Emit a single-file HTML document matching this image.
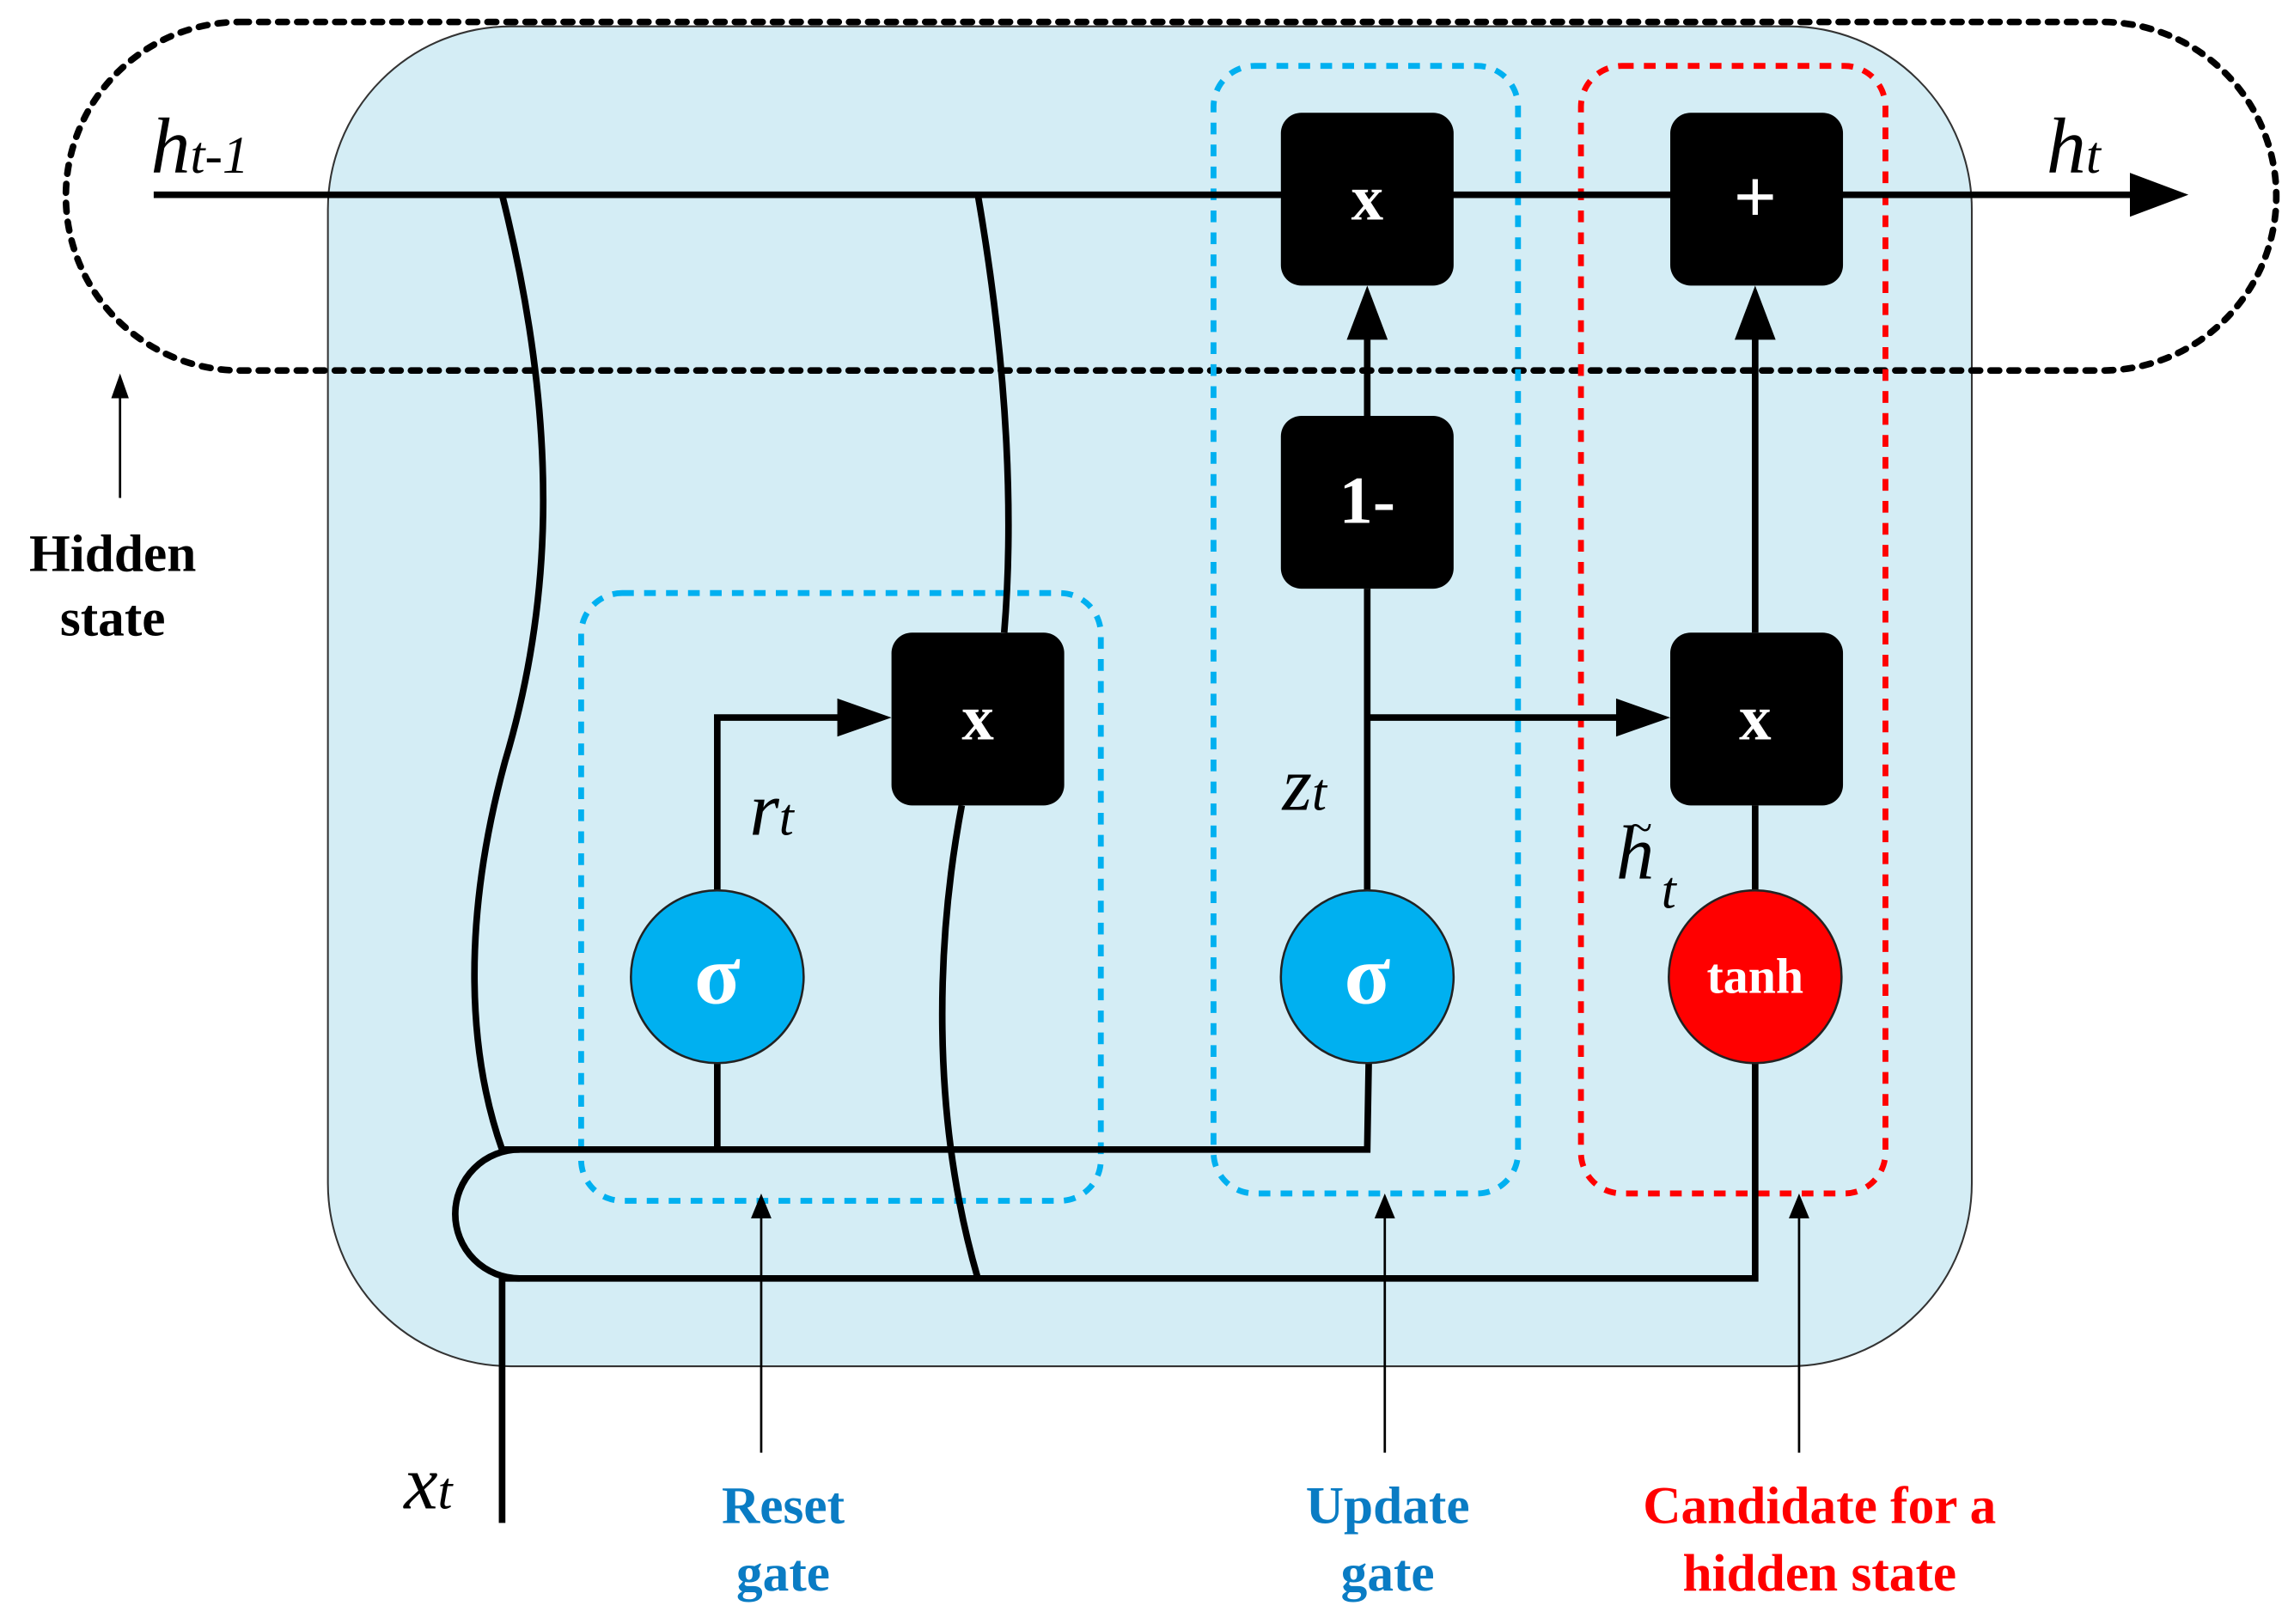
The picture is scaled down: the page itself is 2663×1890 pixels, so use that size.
<!DOCTYPE html>
<html><head><meta charset="utf-8"><style>html,body{margin:0;padding:0;background:#fff}svg{display:block}</style></head>
<body>
<svg width="2663" height="1890" viewBox="0 0 1563 1109" preserveAspectRatio="none" xmlns="http://www.w3.org/2000/svg">
<rect x="224" y="18" width="1123" height="915" rx="125" fill="#d4edf5" stroke="#333" stroke-width="1.2"/>
<rect x="45" y="15" width="1510" height="238" rx="119" fill="none" stroke="#000" stroke-width="4.5" stroke-dasharray="6,7" stroke-linecap="round"/>
<rect x="397" y="405" width="355" height="415" rx="28" fill="none" stroke="#00b0f0" stroke-width="4" stroke-dasharray="8,7"/>
<rect x="829" y="45" width="208" height="770" rx="28" fill="none" stroke="#00b0f0" stroke-width="4" stroke-dasharray="8,7"/>
<rect x="1080" y="45" width="208" height="770" rx="28" fill="none" stroke="#ff0000" stroke-width="4" stroke-dasharray="8,7"/>
<g fill="none" stroke="#000" stroke-width="4.5">
<line x1="105" y1="133" x2="1460" y2="133"/>
<path d="M343,133 C385,300 375,420 345,520 C315,630 320,720 343,785"/>
<path d="M668,133 C690,260 692,360 686,432"/>
<path d="M657,550 C640,640 635,760 668,873"/>
<path d="M343,785 L934,785 L935,726"/>
<line x1="490" y1="785" x2="490" y2="726"/>
<path d="M355,785 A44,44 0 0 0 355,873"/>
<path d="M343,873 L1199,873 L1199,726"/>
<line x1="343" y1="873" x2="343" y2="1040"/>
<path d="M490,608 L490,490 L578,490"/>
<line x1="934" y1="608" x2="934" y2="402"/>
<line x1="934" y1="490" x2="1110" y2="490"/>
<line x1="934" y1="284" x2="934" y2="225"/>
<line x1="1199" y1="608" x2="1199" y2="550"/>
<line x1="1199" y1="432" x2="1199" y2="225"/>
</g>
<g fill="#000">
<path d="M1455,118 L1495,133 L1455,148z"/>
<path d="M572,477 L609,490 L572,503z"/>
<path d="M1104,477 L1141,490 L1104,503z"/>
<path d="M920,232 L934,195 L948,232z"/>
<path d="M1185,232 L1199,195 L1213,232z"/>
</g>
<g stroke="#000" stroke-width="1.6">
<line x1="82" y1="340" x2="82" y2="268"/>
<line x1="520" y1="992" x2="520" y2="828"/>
<line x1="946" y1="992" x2="946" y2="828"/>
<line x1="1229" y1="992" x2="1229" y2="828"/>
</g>
<g fill="#000">
<path d="M76,272 L82,255 L88,272z"/>
<path d="M513,832 L520,815 L527,832z"/>
<path d="M939,832 L946,815 L953,832z"/>
<path d="M1222,832 L1229,815 L1236,832z"/>
</g>
<g fill="#000">
<rect x="875" y="77" width="118" height="118" rx="14"/>
<rect x="1141" y="77" width="118" height="118" rx="14"/>
<rect x="875" y="284" width="118" height="118" rx="14"/>
<rect x="609" y="432" width="118" height="118" rx="14"/>
<rect x="1141" y="432" width="118" height="118" rx="14"/>
</g>
<circle cx="490" cy="667" r="59" fill="#00b0f0" stroke="#222" stroke-width="1.5"/>
<circle cx="934" cy="667" r="59" fill="#00b0f0" stroke="#222" stroke-width="1.5"/>
<circle cx="1199" cy="667" r="59" fill="#ff0000" stroke="#222" stroke-width="1.5"/>
<g font-family="Liberation Serif, serif" font-weight="bold" fill="#fff" text-anchor="middle">
<text x="934" y="150" font-size="44">x</text>
<text x="1199" y="152" font-size="52">+</text>
<text x="934" y="357" font-size="46">1-</text>
<text x="668" y="505" font-size="44">x</text>
<text x="1199" y="505" font-size="44">x</text>
<text x="490" y="685" font-size="58">σ</text>
<text x="934" y="685" font-size="58">σ</text>
<text x="1199" y="678" font-size="34">tanh</text>
</g>
<g font-family="Liberation Serif, serif" font-style="italic" fill="#000">
<text x="103" y="118" font-size="54">h<tspan font-size="36">t-1</tspan></text>
<text x="1398" y="118" font-size="54">h<tspan font-size="36">t</tspan></text>
<text x="512" y="570" font-size="52">r<tspan font-size="36">t</tspan></text>
<text x="876" y="553" font-size="52">z<tspan font-size="36">t</tspan></text>
<text x="1104" y="600" font-size="52">h</text>
<text x="1112" y="575" font-size="30">~</text>
<text x="1135" y="620" font-size="36">t</text>
<text x="276" y="1030" font-size="52">x<tspan font-size="36">t</tspan></text>
</g>
<g font-family="Liberation Serif, serif" font-weight="bold" font-size="36" text-anchor="middle">
<text x="77" y="390" fill="#000">Hidden</text>
<text x="77" y="434" fill="#000">state</text>
<text x="535" y="1040" fill="#0a7cc4">Reset</text>
<text x="535" y="1086" fill="#0a7cc4">gate</text>
<text x="948" y="1040" fill="#0a7cc4">Update</text>
<text x="948" y="1086" fill="#0a7cc4">gate</text>
<text x="1243" y="1040" fill="#ff0000">Candidate for a</text>
<text x="1243" y="1086" fill="#ff0000">hidden state</text>
</g>
</svg>
</body></html>
